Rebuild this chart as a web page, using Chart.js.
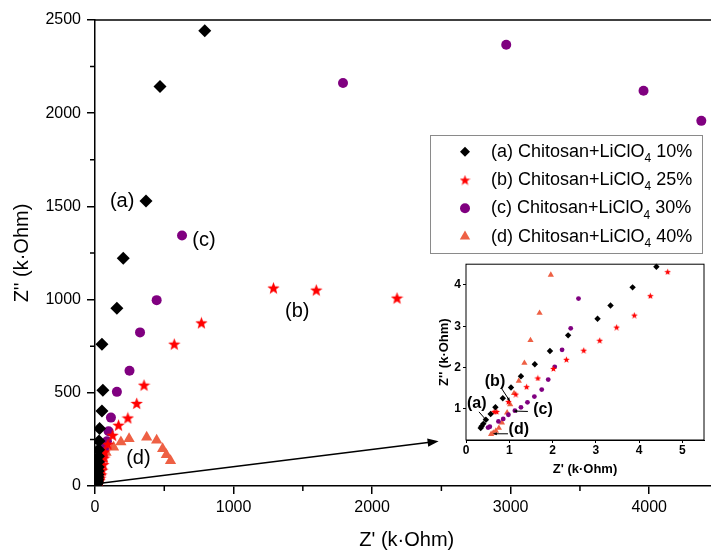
<!DOCTYPE html>
<html>
<head>
<meta charset="utf-8">
<script src="https://cdn.jsdelivr.net/npm/chart.js@4/dist/chart.umd.min.js"></script>
<style>
  html, body { margin: 0; padding: 0; background: #fff; overflow: hidden; }
  #wrap { position: relative; width: 711px; height: 550px; overflow: hidden; }
  #main { position: absolute; left: 0; top: 0; }
  #inset { position: absolute; left: 436px; top: 255px; }
</style>
</head>
<body>
<div id="wrap">
  <canvas id="main" width="725" height="550"></canvas>
  <canvas id="inset" width="275" height="225"></canvas>
</div>
<script>
// Nyquist data, Z' and Z'' in k·Ohm, one list of [Z', Z''] per sample
var tags = ['(a)', '(b)', '(c)', '(d)'];
var saltContent = ['10%', '25%', '30%', '40%'];

var pointsA = [
    [0.34, 0.54], [0.36, 0.58], [0.40, 0.64], [0.46, 0.74], [0.57, 0.88], [0.68, 1.04],
    [0.85, 1.26], [1.04, 1.52], [1.27, 1.79], [1.59, 2.08], [1.94, 2.40], [2.36, 2.78],
    [3.04, 3.18], [3.34, 3.50], [3.85, 3.94], [4.40, 4.44],
    [5.3, 5.3], [6.5, 6.3], [8, 7.6], [10, 9.5], [12, 12], [14, 15], [16, 20], [18, 27],
    [19, 36], [20, 48], [21, 62], [22, 80], [23, 102], [24, 130], [25, 160], [26, 195],
    [29, 242], [33, 308], [50, 403], [57, 514], [50, 761], [158, 953], [204, 1222],
    [368, 1529], [469, 2143], [792, 2442]
];
var pointsB = [
    [0.65, 0.94], [0.71, 0.94], [0.98, 1.18], [1.15, 1.36], [1.40, 1.54], [1.66, 1.75],
    [2.02, 1.98], [2.32, 2.20], [2.72, 2.42], [3.09, 2.66], [3.48, 2.98], [3.89, 3.27],
    [4.26, 3.74], [4.66, 4.32],
    [5.4, 4.9], [6, 5.6], [7.5, 6.8], [9.5, 8.3], [12, 10.5], [15, 13.5], [19, 17.5],
    [24, 23], [30, 30], [37, 42], [45, 60], [52, 85], [60, 115], [66, 150], [69, 183],
    [93, 224], [127, 272], [170, 326], [237, 365], [301, 443], [354, 541], [572, 761],
    [768, 875], [1288, 1062], [1597, 1051], [2180, 1008]
];
var pointsC = [
    [0.51, 0.55], [0.55, 0.57], [0.75, 0.70], [0.86, 0.76], [0.98, 0.86], [1.13, 0.96],
    [1.27, 1.04], [1.42, 1.16], [1.58, 1.30], [1.75, 1.47], [1.90, 1.71], [2.05, 2.02],
    [2.22, 2.43], [2.42, 2.95], [2.60, 3.67],
    [2.9, 4.6], [3.3, 6], [3.8, 8], [4.5, 11], [5.5, 15], [7, 21], [9, 30], [12, 42],
    [16, 58], [21, 80], [30, 105], [40, 135], [52, 165], [65, 200], [86, 240], [98, 294],
    [115, 367], [158, 505], [249, 618], [325, 824], [445, 997], [628, 1344],
    [1790, 2162], [2968, 2367], [3959, 2120], [4376, 1959]
];
var pointsD = [
    [0.58, 0.39], [0.63, 0.42], [0.69, 0.47], [0.76, 0.54], [0.83, 0.67], [0.95, 0.91],
    [1.02, 1.11], [1.11, 1.38], [1.22, 1.68], [1.35, 2.11], [1.49, 2.66], [1.70, 3.32],
    [1.96, 4.24],
    [2.3, 5.5], [2.8, 7.2], [3.4, 9.5], [4.2, 12.5], [5.2, 16.5], [6.5, 21], [8.2, 27],
    [10.5, 35], [13.5, 45], [17.5, 58], [23, 74], [30, 94], [40, 118], [55, 148],
    [80, 180], [134, 208], [187, 236], [246, 254], [373, 262], [445, 245], [488, 200],
    [515, 168], [545, 135]
];

var xTicks = [0, 1000, 2000, 3000, 4000];
var xMinor = [500, 1500, 2500, 3500];
var yTicks = [0, 500, 1000, 1500, 2000, 2500];
var yMinor = [250, 750, 1250, 1750, 2250];
var insetXTicks = [0, 1, 2, 3, 4, 5];
var insetYTicks = [1, 2, 3, 4];

var FONT = "'Liberation Sans', Arial, sans-serif";
var colors = ['#000000', '#ff0000', '#800080', '#ee6044'];

function makeStar(size, color) {
    var c = document.createElement('canvas');
    c.width = size; c.height = size;
    var g = c.getContext('2d');
    var R = size / 2, r = R * 0.42;
    g.fillStyle = color;
    g.beginPath();
    for (var i = 0; i < 10; i++) {
        var rad = (i % 2 === 0) ? R : r;
        var a = -Math.PI / 2 + i * Math.PI / 5;
        var px = R + rad * Math.cos(a), py = R + 0.5 + rad * Math.sin(a);
        if (i === 0) g.moveTo(px, py); else g.lineTo(px, py);
    }
    g.closePath();
    g.fill();
    return c;
}

function toXY(list) {
    return list.map(function(p) { return { x: p[0], y: p[1] }; });
}

function buildDatasets(sizes) {
    var all = [pointsA, pointsB, pointsC, pointsD];
    var styles = ['rectRot', makeStar(sizes.star, colors[1]), 'circle', 'triangle'];
    var radii = [sizes.diamond, sizes.star / 2, sizes.circle, sizes.triangle];
    return all.map(function(pts, i) {
        return {
            label: tags[i],
            data: toXY(pts),
            pointStyle: styles[i],
            pointRadius: radii[i],
            pointHoverRadius: radii[i],
            backgroundColor: colors[i],
            borderColor: colors[i],
            borderWidth: 0
        };
    });
}

function arrow(ctx, x1, y1, x2, y2, head, lw) {
    var a = Math.atan2(y2 - y1, x2 - x1);
    var ca = Math.cos(a), sa = Math.sin(a);
    ctx.lineWidth = lw;
    ctx.beginPath();
    ctx.moveTo(x1, y1);
    ctx.lineTo(x2 - ca * head * 0.8, y2 - sa * head * 0.8);
    ctx.stroke();
    ctx.beginPath();
    ctx.moveTo(x2, y2);
    ctx.lineTo(x2 - head * ca + head * 0.38 * sa, y2 - head * sa - head * 0.38 * ca);
    ctx.lineTo(x2 - head * ca - head * 0.38 * sa, y2 - head * sa + head * 0.38 * ca);
    ctx.closePath();
    ctx.fill();
}

// top frame line, minor ticks, labels, arrow and legend of the main plot
var mainDecor = {
    id: 'mainDecor',
    afterDraw: function(chart) {
        var ctx = chart.ctx, area = chart.chartArea;
        var xs = chart.scales.x, ys = chart.scales.y;
        ctx.save();
        ctx.strokeStyle = '#000';
        ctx.fillStyle = '#000';
        ctx.lineWidth = 1.5;
        ctx.beginPath();
        ctx.moveTo(area.left - 0.75, area.top);
        ctx.lineTo(area.right, area.top);
        ctx.stroke();
        ctx.beginPath();
        xMinor.forEach(function(v) {
            var px = xs.getPixelForValue(v);
            ctx.moveTo(px, area.bottom);
            ctx.lineTo(px, area.bottom + 5);
        });
        yMinor.forEach(function(v) {
            var py = ys.getPixelForValue(v);
            ctx.moveTo(area.left, py);
            ctx.lineTo(area.left - 5, py);
        });
        ctx.stroke();

        ctx.font = '20px ' + FONT;
        ctx.textAlign = 'center';
        ctx.textBaseline = 'middle';
        var tagPos = [[196, 1529], [1460, 938], [786, 1318], [313, 147]];
        tags.forEach(function(t, i) {
            ctx.fillText(t, xs.getPixelForValue(tagPos[i][0]), ys.getPixelForValue(tagPos[i][1]));
        });

        arrow(ctx, xs.getPixelForValue(40), ys.getPixelForValue(15),
              xs.getPixelForValue(2480), ys.getPixelForValue(240), 11, 1.5);

        // legend
        ctx.strokeStyle = '#8a8a8a';
        ctx.lineWidth = 1;
        ctx.strokeRect(430.5, 135.5, 272, 118);
        var legendSizes = { diamond: 5, star: 11, circle: 5, triangle: 6 };
        var styles = ['rectRot', makeStar(legendSizes.star, colors[1]), 'circle', 'triangle'];
        var radii = [legendSizes.diamond, legendSizes.star / 2, legendSizes.circle, legendSizes.triangle];
        ctx.textAlign = 'left';
        ctx.textBaseline = 'middle';
        tags.forEach(function(t, i) {
            var cy = 151.7 + i * 28.3;
            ctx.fillStyle = colors[i];
            Chart.helpers.drawPoint(ctx, { pointStyle: styles[i], radius: radii[i], rotation: 0, borderWidth: 0 }, 465, cy);
            ctx.fillStyle = '#000';
            ctx.font = '18px ' + FONT;
            var head = t + ' Chitosan+LiClO';
            ctx.fillText(head, 491, cy);
            var x = 491 + ctx.measureText(head).width;
            ctx.font = '12px ' + FONT;
            ctx.fillText('4', x, cy + 7);
            x += ctx.measureText('4').width;
            ctx.font = '18px ' + FONT;
            ctx.fillText(' ' + saltContent[i], x, cy);
        });
        ctx.restore();
    }
};

var mainChart = new Chart(document.getElementById('main'), {
    type: 'scatter',
    data: { datasets: buildDatasets({ diamond: 6.5, star: 13, circle: 5, triangle: 6.5 }) },
    options: {
        responsive: false,
        animation: false,
        devicePixelRatio: 1,
        layout: { padding: { top: 20, right: 4, left: 0, bottom: 0 } },
        plugins: { legend: { display: false }, tooltip: { enabled: false } },
        scales: {
            x: {
                type: 'linear', min: 0, max: 4500,
                afterBuildTicks: function(s) { s.ticks = xTicks.map(function(v) { return { value: v }; }); },
                afterFit: function(s) { s.height = 64; },
                grid: { drawOnChartArea: false, tickLength: 8, color: '#000', lineWidth: 1.5 },
                border: { color: '#000', width: 1.5 },
                ticks: { color: '#000', font: { family: FONT, size: 16 }, padding: 4, maxRotation: 0, autoSkip: false,
                         callback: function(v) { return String(v); } },
                title: { display: true, text: "Z' (k\u00b7Ohm)", color: '#000',
                         font: { family: FONT, size: 20, lineHeight: 1 }, padding: { top: 0, bottom: 0 } }
            },
            y: {
                type: 'linear', min: 0, max: 2500,
                afterBuildTicks: function(s) { s.ticks = yTicks.map(function(v) { return { value: v }; }); },
                afterFit: function(s) { s.width = 95; },
                grid: { drawOnChartArea: false, tickLength: 8, color: '#000', lineWidth: 1.5 },
                border: { color: '#000', width: 1.5 },
                ticks: { color: '#000', font: { family: FONT, size: 16 }, padding: 6, autoSkip: false,
                         callback: function(v) { return String(v); } },
                title: { display: true, text: "Z'' (k\u00b7Ohm)", color: '#000',
                         font: { family: FONT, size: 20, lineHeight: 1 }, padding: { top: 12, bottom: 0 } }
            }
        }
    },
    plugins: [mainDecor]
});

// inset frame and arrowed labels near the origin
var insetDecor = {
    id: 'insetDecor',
    beforeDatasetsDraw: function(chart) {
        var ctx = chart.ctx, a = chart.chartArea;
        ctx.save();
        ctx.fillStyle = '#fff';
        ctx.fillRect(a.left, a.top, a.right - a.left, a.bottom - a.top);
        ctx.restore();
    },
    afterDraw: function(chart) {
        var ctx = chart.ctx, a = chart.chartArea;
        var xs = chart.scales.x, ys = chart.scales.y;
        ctx.save();
        ctx.strokeStyle = '#000';
        ctx.fillStyle = '#000';
        ctx.lineWidth = 1;
        ctx.strokeRect(a.left, a.top, a.right - a.left, a.bottom - a.top);

        ctx.font = 'bold 16px ' + FONT;
        ctx.textAlign = 'center';
        ctx.textBaseline = 'middle';
        var tagPos = [[0.25, 1.13], [0.67, 1.65], [1.78, 0.99], [1.22, 0.50]];
        var pointers = [[0.30, 0.93, 0.485, 0.71], [0.82, 1.50, 1.02, 1.18],
                        [1.43, 0.94, 1.09, 0.95], [0.97, 0.40, 0.62, 0.40]];
        tags.forEach(function(t, i) {
            ctx.fillText(t, xs.getPixelForValue(tagPos[i][0]), ys.getPixelForValue(tagPos[i][1]));
            var p = pointers[i];
            arrow(ctx, xs.getPixelForValue(p[0]), ys.getPixelForValue(p[1]),
                  xs.getPixelForValue(p[2]), ys.getPixelForValue(p[3]), 4, 1);
        });
        ctx.restore();
    }
};

var insetSets = buildDatasets({ diamond: 3.2, star: 7, circle: 2.4, triangle: 3.6 });
insetSets.forEach(function(d) { d.clip = 1; });

var insetChart = new Chart(document.getElementById('inset'), {
    type: 'scatter',
    data: { datasets: insetSets },
    options: {
        responsive: false,
        animation: false,
        devicePixelRatio: 1,
        layout: { padding: { top: 8, right: 7, left: 0, bottom: 0 } },
        plugins: { legend: { display: false }, tooltip: { enabled: false } },
        scales: {
            x: {
                type: 'linear', min: 0, max: 5.5,
                afterBuildTicks: function(s) { s.ticks = insetXTicks.map(function(v) { return { value: v }; }); },
                afterFit: function(s) { s.height = 40; },
                grid: { drawOnChartArea: false, tickLength: 3, color: '#000', lineWidth: 1 },
                border: { color: '#000', width: 1 },
                ticks: { color: '#000', font: { family: FONT, size: 12, weight: 'bold' }, padding: 0, maxRotation: 0, autoSkip: false,
                         callback: function(v) { return String(v); } },
                title: { display: true, text: "Z' (k\u00b7Ohm)", color: '#000',
                         font: { family: FONT, size: 13, weight: 'bold', lineHeight: 1 }, padding: { top: 0, bottom: 4 } }
            },
            y: {
                type: 'linear', min: 0.25, max: 4.5,
                afterBuildTicks: function(s) { s.ticks = insetYTicks.map(function(v) { return { value: v }; }); },
                afterFit: function(s) { s.width = 30; },
                grid: { drawOnChartArea: false, tickLength: 3, color: '#000', lineWidth: 1 },
                border: { color: '#000', width: 1 },
                ticks: { color: '#000', font: { family: FONT, size: 12, weight: 'bold' }, padding: 2, autoSkip: false,
                         callback: function(v) { return String(v); } },
                title: { display: true, text: "Z'' (k\u00b7Ohm)", color: '#000',
                         font: { family: FONT, size: 13, weight: 'bold', lineHeight: 1 }, padding: { top: 2, bottom: 0 } }
            }
        }
    },
    plugins: [insetDecor]
});
</script>
</body>
</html>
